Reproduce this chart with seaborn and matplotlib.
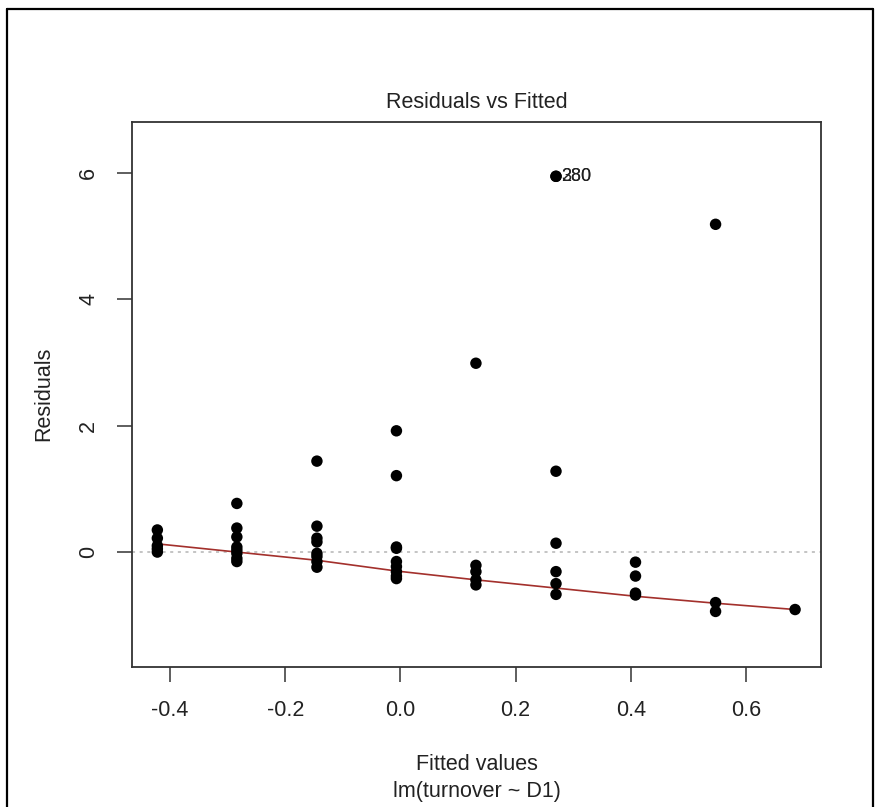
"""
Residuals vs Fitted diagnostic plot for lm(turnover ~ D1), redrawn with
seaborn in the look of R's plot.lm().
"""
import matplotlib.pyplot as plt
from matplotlib.lines import Line2D
import pandas as pd
import seaborn as sns


# fitted value of each D1 level
fitted_levels = [-0.422, -0.284, -0.145, -0.007, 0.131,
                 0.270, 0.408, 0.547, 0.685]

# residuals, one list per fitted level
resid_0 = [0.35, 0.22, 0.10, 0.05, 0.00]
resid_1 = [0.77, 0.38, 0.24, 0.08, 0.03, -0.02, -0.10, -0.15]
resid_2 = [1.44, 0.41, 0.22, 0.16, -0.02, -0.07, -0.15, -0.24]
resid_3 = [1.92, 1.21, 0.08, 0.06, -0.15, -0.23, -0.31, -0.38, -0.42]
resid_4 = [2.99, -0.21, -0.31, -0.44, -0.52]
resid_5 = [5.95, 5.95, 1.28, 0.14, -0.31, -0.50, -0.67]
resid_6 = [-0.16, -0.38, -0.65, -0.68]
resid_7 = [5.19, -0.80, -0.94]
resid_8 = [-0.91]

# lowess smoother (red line)
smooth_y = [0.13, 0.00, -0.13, -0.30, -0.44, -0.57, -0.70, -0.81, -0.91]

# labelled outliers
id_labels = ['280', '380']
id_x = 0.270
id_y = 5.95

x_ticks = [-0.4, -0.2, 0.0, 0.2, 0.4, 0.6]
x_ticklabels = ['-0.4', '-0.2', '0.0', '0.2', '0.4', '0.6']
y_ticks = [0, 2, 4, 6]
y_ticklabels = ['0', '2', '4', '6']

W, H = 875, 807


def build_frame():
    """Put the residual lists together into one long DataFrame."""
    groups = [resid_0, resid_1, resid_2, resid_3, resid_4,
              resid_5, resid_6, resid_7, resid_8]
    rows = []
    for fit, res in zip(fitted_levels, groups):
        for r in res:
            rows.append((fit, r))
    return pd.DataFrame(rows, columns=['fitted', 'residual'])


def plot_residuals(df):
    """Draw the residuals vs fitted plot and save it as out.png."""
    sns.set_style('white')
    plt.rcParams['font.family'] = ['Liberation Sans', 'DejaVu Sans']
    fs = 15.5

    fig = plt.figure(figsize=(W / 100, H / 100), dpi=100)
    ax = fig.add_axes([132 / W, 1 - 667 / H, (821 - 132) / W,
                       (667 - 122) / H])

    ax.axhline(0, color='#b4b4b4', lw=1.1, ls=(0, (2, 3)), zorder=1)
    sns.lineplot(x=fitted_levels, y=smooth_y, color='#a3302c', lw=1.2,
                 ax=ax, zorder=2)
    sns.scatterplot(data=df, x='fitted', y='residual', color='black',
                    s=68, edgecolor='none', ax=ax, zorder=3)
    for lab in id_labels:
        ax.annotate(lab, (id_x, id_y), xytext=(4, 0),
                    textcoords='offset points', va='center', ha='left',
                    fontsize=13, color='#222222')

    ax.set_xlim(-0.466, 0.730)
    ax.set_ylim(-1.82, 6.81)
    ax.set_xticks(x_ticks)
    ax.set_xticklabels(x_ticklabels)
    ax.set_yticks(y_ticks)
    ax.set_yticklabels(y_ticklabels, rotation=90, va='center')
    ax.tick_params(length=10.5, width=1.1, color='#333333',
                   labelsize=fs, labelcolor='#222222', pad=13,
                   direction='out', bottom=True, left=True)
    for side in ['top', 'right', 'bottom', 'left']:
        ax.spines[side].set_visible(True)
        ax.spines[side].set_color('#333333')
        ax.spines[side].set_linewidth(1.3)
    ax.set_xlabel('')
    ax.set_ylabel('')

    cx = (132 + 821) / 2 / W
    fig.text(cx, 1 - 103 / H, 'Residuals vs Fitted', ha='center',
             va='center', fontsize=fs, color='#222222')
    fig.text(cx, 1 - 765 / H, 'Fitted values', ha='center',
             va='center', fontsize=fs, color='#222222')
    fig.text(cx, 1 - 792 / H, 'lm(turnover ~ D1)', ha='center',
             va='center', fontsize=fs, color='#222222')
    fig.text(44 / W, 1 - 394 / H, 'Residuals', ha='center', va='center',
             rotation=90, fontsize=fs, color='#222222')

    # outer frame of the screenshot
    lx, rx, ty = 7 / W, 873 / W, 1 - 9 / H
    for xs, ys in [([lx, lx], [0, ty]), ([lx, rx], [ty, ty]),
                   ([rx, rx], [0, ty])]:
        fig.add_artist(Line2D(xs, ys, color='black', lw=1.6))

    fig.savefig('out.png', dpi=100)


def main():
    """Build the data and draw the chart."""
    df = build_frame()
    plot_residuals(df)


if __name__ == '__main__':
    main()
